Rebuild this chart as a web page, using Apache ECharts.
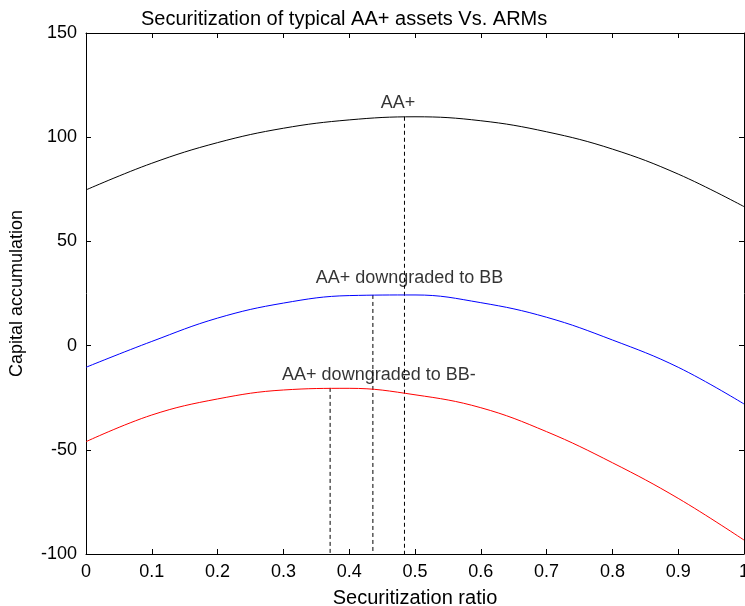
<!DOCTYPE html>
<html>
<head>
<meta charset="utf-8">
<script src="https://cdn.jsdelivr.net/npm/echarts@6/dist/echarts.min.js"></script>
<style>html,body{margin:0;padding:0;background:#fff}#c{width:745px;height:606px}</style>
</head>
<body>
<div id="c"></div>
<script>
const xValues = [0, 0.1, 0.2, 0.3, 0.4, 0.5, 0.6, 0.7, 0.8, 0.9, 1.0];
const aaPlus = [74.7, 87.5, 97.4, 104.3, 108.3, 109.8, 107.9, 102.6, 94.3, 82.3, 66.7];
const toBB = [-10.4, 2.0, 13.2, 20.4, 24.0, 24.3, 20.6, 13.6, 2.7, -10.4, -28.0];
const toBBminus = [-46.1, -33.3, -25.6, -21.3, -20.5, -23.6, -29.8, -41.3, -56.2, -73.3, -93.3];
const peakX = [0.484, 0.436, 0.371];
const peakY = [109.8, 24.3, -20.3];
const labelTexts = ['AA+', 'AA+ downgraded to BB', 'AA+ downgraded to BB-'];
const labelX = [0.448, 0.349, 0.298];
const labelY = [116.4, 32.4, -14.1];
const yMin = -100;

const font = 'Liberation Sans, Arial, sans-serif';
const pair = (ys) => xValues.map((x, i) => [x, ys[i]]);

const dashSeries = peakX.map((x, i) => ({
  type: 'line', data: [[x, peakY[i]], [x, yMin]], symbol: 'none', silent: true,
  lineStyle: { color: '#000', width: 1, type: [4, 3] }, z: 1
}));

const boxAxisLine = { show: true, onZero: false, lineStyle: { color: '#000', width: 1 } };
const boxTick = { show: true, inside: true, length: 5, lineStyle: { color: '#000' } };

const chart = echarts.init(document.getElementById('c'), null, { renderer: 'canvas' });
chart.setOption({
  animation: false,
  backgroundColor: '#fff',
  title: {
    text: 'Securitization of typical AA+ assets Vs. ARMs',
    left: 141, top: 9, padding: 0,
    textStyle: { fontFamily: font, fontSize: 20, fontWeight: 'normal', color: '#000' }
  },
  grid: { left: 86, right: 1, top: 33, bottom: 52, outerBoundsMode: 'none', containLabel: false },
  xAxis: [{
    type: 'value', min: 0, max: 1, interval: 0.1,
    name: 'Securitization ratio', nameLocation: 'middle', nameGap: 34,
    nameTextStyle: { fontFamily: font, fontSize: 20, color: '#000' },
    axisLine: boxAxisLine, axisTick: boxTick,
    axisLabel: { fontFamily: font, fontSize: 18, color: '#000', margin: 9,
      formatter: v => String(Math.round(v * 10) / 10) },
    splitLine: { show: false }
  }, {
    type: 'value', position: 'top', min: 0, max: 1, interval: 0.1,
    axisLine: boxAxisLine, axisTick: boxTick,
    axisLabel: { show: false }, splitLine: { show: false }
  }],
  yAxis: [{
    type: 'value', min: -100, max: 150, interval: 50,
    name: 'Capital accumulation', nameLocation: 'middle', nameGap: 60, nameRotate: 90,
    nameTextStyle: { fontFamily: font, fontSize: 18, color: '#000' },
    axisLine: boxAxisLine, axisTick: boxTick,
    axisLabel: { fontFamily: font, fontSize: 18, color: '#000', margin: 9 },
    splitLine: { show: false }
  }, {
    type: 'value', position: 'right', min: -100, max: 150, interval: 50,
    axisLine: boxAxisLine, axisTick: boxTick,
    axisLabel: { show: false }, splitLine: { show: false }
  }],
  series: [
    { type: 'line', data: pair(aaPlus), smooth: 0.4, symbol: 'none', lineStyle: { color: '#000', width: 1 }, z: 3 },
    { type: 'line', data: pair(toBB), smooth: 0.4, symbol: 'none', lineStyle: { color: '#0000ff', width: 1 }, z: 3 },
    { type: 'line', data: pair(toBBminus), smooth: 0.4, symbol: 'none', lineStyle: { color: '#ff0000', width: 1 }, z: 3 },
    ...dashSeries,
    {
      type: 'scatter', symbolSize: 0, silent: true, z: 5,
      data: labelTexts.map((t, i) => ({ value: [labelX[i], labelY[i]], name: t })),
      label: { show: true, position: 'right', distance: 0, formatter: p => p.name,
        fontFamily: font, fontSize: 18, color: '#000' }
    }
  ]
});
</script>
</body>
</html>
